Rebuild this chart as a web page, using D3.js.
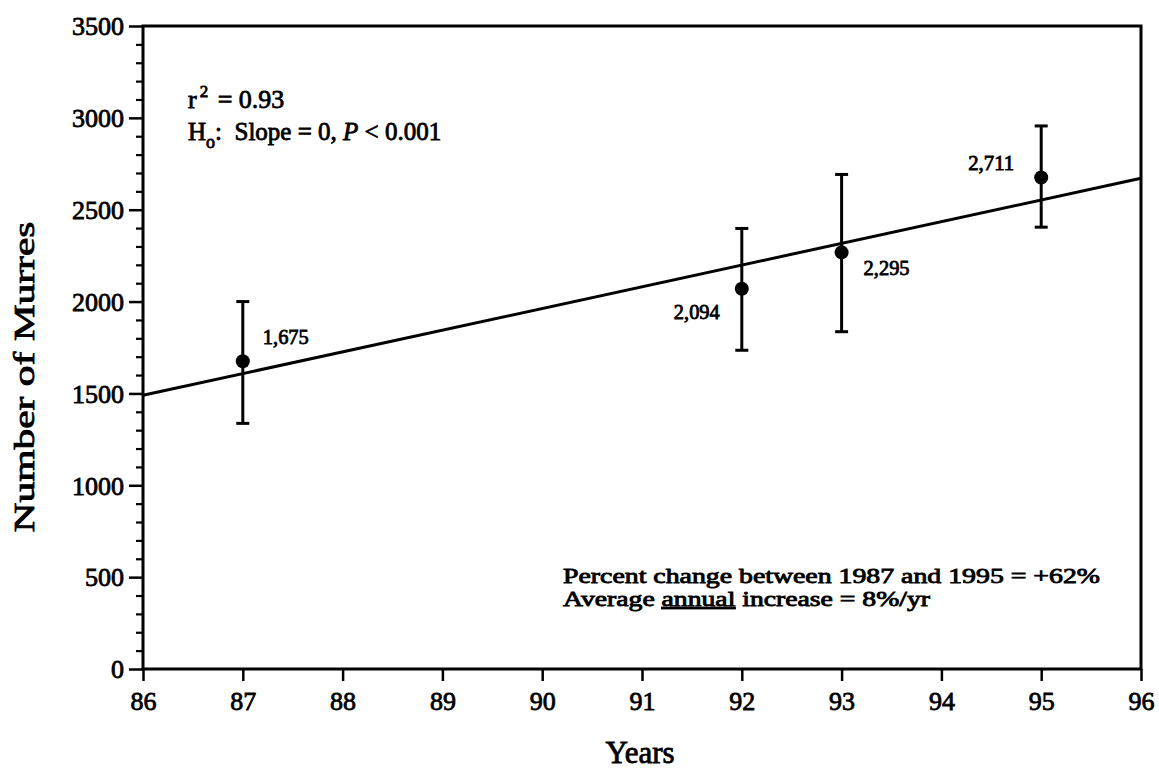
<!DOCTYPE html>
<html>
<head>
<meta charset="utf-8">
<script src="https://cdn.jsdelivr.net/npm/d3@7/dist/d3.min.js"></script>
<style>
  body { margin: 0; background: #fff; }
  svg { display: block; }
  text { font-family: "Liberation Serif", "Times New Roman", Times, serif; fill: #000; }
  .ink { stroke: #000; stroke-width: 0.8px; }
</style>
</head>
<body>
<svg id="chart" width="1159" height="771"></svg>
<script>
// survey years (19xx) and murre counts
var years = [87, 92, 93, 95];
var counts = [1675, 2070, 2268, 2675];
var countLabels = ["1,675", "2,094", "2,295", "2,711"];
var lower = [1337, 1735, 1836, 2405];
var upper = [2000, 2398, 2692, 2956];

// regression line end points
var fitYears = [86, 96];
var fitCounts = [1490, 2671];

var xTicks = [86, 87, 88, 89, 90, 91, 92, 93, 94, 95, 96];
var yTicks = [0, 500, 1000, 1500, 2000, 2500, 3000, 3500];

var svg = d3.select("#chart");
var x = d3.scaleLinear().domain([86, 96]).range([143, 1141]);
var y = d3.scaleLinear().domain([0, 3500]).range([669, 26]);

// label offsets from each point (dx, dy, anchor)
var labelPos = [[20, -17, "start"], [-22, 30, "end"], [22, 23, "start"], [-27, -8, "end"]];

// minor y ticks every 100
var minor = d3.range(0, 3501, 100).filter(function(v){ return v % 500 != 0; });
svg.append("g").attr("transform", "translate(143,0)")
  .call(d3.axisLeft(y).tickValues(minor).tickSize(7).tickSizeOuter(0).tickFormat(""))
  .call(function(g){ g.select(".domain").remove(); g.selectAll("line").attr("stroke-width", 2.2); });

// major y ticks
var yAx = svg.append("g").attr("transform", "translate(143,0)")
  .call(d3.axisLeft(y).tickValues(yTicks).tickSize(14).tickPadding(5).tickSizeOuter(0).tickFormat(d3.format("d")));
yAx.select(".domain").remove();
yAx.attr("font-family", null);
yAx.selectAll("line").attr("stroke-width", 2.5);
yAx.selectAll("text").attr("font-size", 26).attr("class", "ink").attr("dy", "0.34em");

// x ticks
var xAx = svg.append("g").attr("transform", "translate(0,669)")
  .call(d3.axisBottom(x).tickValues(xTicks).tickSize(12).tickPadding(11).tickSizeOuter(0).tickFormat(d3.format("d")));
xAx.select(".domain").remove();
xAx.attr("font-family", null);
xAx.selectAll("line").attr("stroke-width", 2.5);
xAx.selectAll("text").attr("font-size", 26).attr("class", "ink");

// frame
svg.append("rect")
  .attr("x", x(86)).attr("y", y(3500))
  .attr("width", x(96) - x(86)).attr("height", y(0) - y(3500))
  .attr("fill", "none").attr("stroke", "#000").attr("stroke-width", 3);

// regression line
svg.append("line")
  .attr("x1", x(fitYears[0])).attr("y1", y(fitCounts[0]))
  .attr("x2", x(fitYears[1])).attr("y2", y(fitCounts[1]))
  .attr("stroke", "#000").attr("stroke-width", 3);

// error bars
var bars = svg.append("g").selectAll("g").data(years).enter().append("g");
bars.append("line")
  .attr("x1", function(d){ return x(d); }).attr("x2", function(d){ return x(d); })
  .attr("y1", function(d, i){ return y(lower[i]); })
  .attr("y2", function(d, i){ return y(upper[i]); })
  .attr("stroke", "#000").attr("stroke-width", 3);
bars.append("line")
  .attr("x1", function(d){ return x(d) - 6.5; }).attr("x2", function(d){ return x(d) + 6.5; })
  .attr("y1", function(d, i){ return y(upper[i]); }).attr("y2", function(d, i){ return y(upper[i]); })
  .attr("stroke", "#000").attr("stroke-width", 3);
bars.append("line")
  .attr("x1", function(d){ return x(d) - 6.5; }).attr("x2", function(d){ return x(d) + 6.5; })
  .attr("y1", function(d, i){ return y(lower[i]); }).attr("y2", function(d, i){ return y(lower[i]); })
  .attr("stroke", "#000").attr("stroke-width", 3);
bars.append("circle")
  .attr("cx", function(d){ return x(d); })
  .attr("cy", function(d, i){ return y(counts[i]); })
  .attr("r", 7).attr("fill", "#000");
bars.append("text")
  .attr("x", function(d, i){ return x(d) + labelPos[i][0]; })
  .attr("y", function(d, i){ return y(counts[i]) + labelPos[i][1]; })
  .attr("text-anchor", function(d, i){ return labelPos[i][2]; })
  .attr("font-size", 20).attr("class", "ink")
  .attr("textLength", 46).attr("lengthAdjust", "spacingAndGlyphs")
  .text(function(d, i){ return countLabels[i]; });

// statistics
var t1 = svg.append("text").attr("x", 188).attr("y", 108).attr("font-size", 26).attr("class", "ink");
t1.append("tspan").text("r");
t1.append("tspan").attr("font-size", 17).attr("dy", -11).attr("dx", 3).text("2");
t1.append("tspan").attr("dy", 11).attr("dx", 3).text(" = 0.93");

var t2 = svg.append("text").attr("x", 188).attr("y", 140).attr("font-size", 25).attr("class", "ink");
t2.append("tspan").text("H");
t2.append("tspan").attr("font-size", 18).attr("dy", 8).text("o");
t2.append("tspan").attr("dy", -8).text(":\u00a0 Slope = 0, ");
t2.append("tspan").attr("font-style", "italic").text("P");
t2.append("tspan").text(" < 0.001");

svg.append("text").attr("x", 563).attr("y", 583).attr("font-size", 20).attr("class", "ink")
  .attr("textLength", 537).attr("lengthAdjust", "spacingAndGlyphs")
  .text("Percent change between 1987 and 1995 = +62%");

var t4 = svg.append("text").attr("x", 563).attr("y", 606).attr("font-size", 20).attr("class", "ink")
  .attr("textLength", 367).attr("lengthAdjust", "spacingAndGlyphs");
t4.append("tspan").text("Average ");
t4.append("tspan").attr("text-decoration", "underline").text("annual");
t4.append("tspan").text(" increase = 8%/yr");

// axis titles
svg.append("text").attr("x", 640).attr("y", 763).attr("text-anchor", "middle")
  .attr("font-size", 31).attr("class", "ink").text("Years");
svg.append("text").attr("transform", "translate(34,377) rotate(-90)").attr("text-anchor", "middle")
  .attr("font-size", 30).attr("class", "ink")
  .attr("textLength", 311).attr("lengthAdjust", "spacingAndGlyphs")
  .text("Number of Murres");
</script>
</body>
</html>
